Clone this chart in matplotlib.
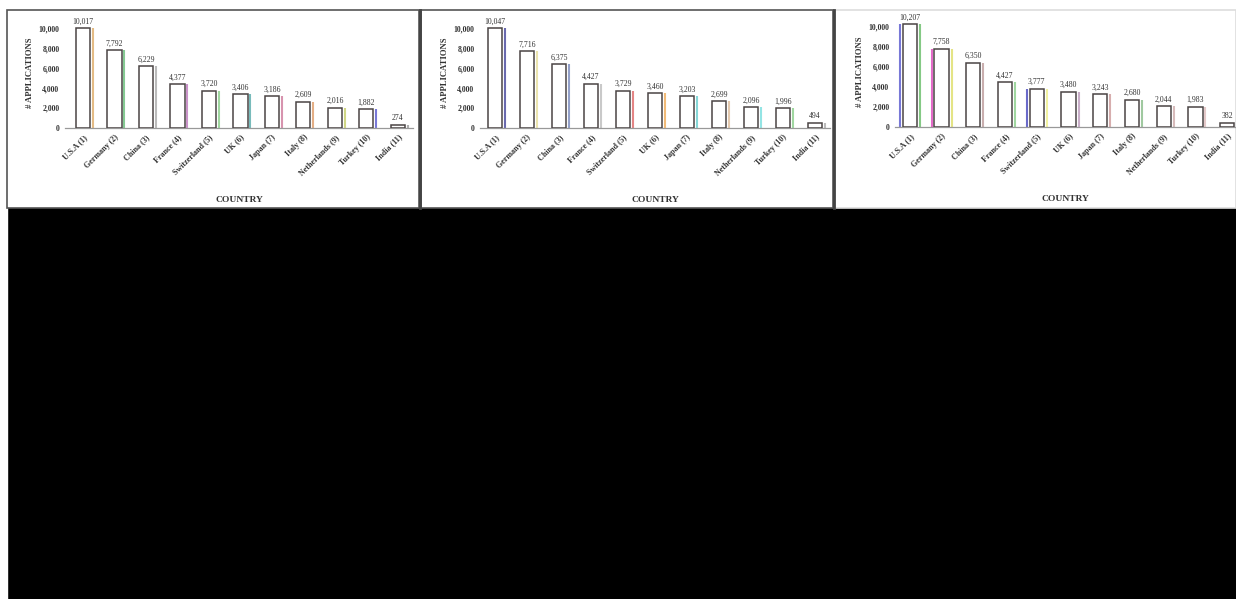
import matplotlib
matplotlib.use("Agg")
import matplotlib.pyplot as plt
from matplotlib.patches import Rectangle

W, H = 1236, 599

countries = ["U.S.A (1)", "Germany (2)", "China (3)", "France (4)", "Switzerland (5)",
             "UK (6)", "Japan (7)", "Italy (8)", "Netherlands (9)", "Turkey (10)", "India (11)"]

apps_left = [10017, 7792, 6229, 4377, 3720, 3406, 3186, 2609, 2016, 1882, 274]
apps_mid = [10047, 7716, 6375, 4427, 3729, 3460, 3203, 2699, 2096, 1996, 494]
apps_right = [10207, 7758, 6350, 4427, 3777, 3480, 3243, 2680, 2044, 1983, 382]

# thin coloured strokes drawn beside each bar
side_left = ["#e0b070", "#70c080", "#b0b0b0", "#c080c0", "#90d090", "#60b0b0",
             "#d080a0", "#e0a070", "#c8d070", "#6060d0", "#a0a0a0"]
side_mid = ["#5050a0", "#e8e0a0", "#8090c0", "#c0c0c0", "#e07070", "#f0b060",
            "#70d0d0", "#e0c0a0", "#80e0e0", "#90d090", "#b0b0b0"]
side_right = ["#70c070", "#e0e070", "#c0a0a0", "#90d090", "#f0f090", "#c0a0c0",
              "#d0a0a0", "#90c090", "#d0b0b0", "#e0c0c0", "#a0a0a0"]
lead_right = ["#6060d0", "#e050c0", None, None, "#5050c0", None, None, None, None, None, None]


def box(x0, y0, x1, y1):
    return [x0 / W, 1 - y1 / H, (x1 - x0) / W, (y1 - y0) / H]


fig = plt.figure(figsize=(W / 100, H / 100), dpi=100, facecolor="black")
plt.rcParams["font.family"] = ["Liberation Serif", "DejaVu Serif"]

# white margins and panel backgrounds
fig.add_artist(Rectangle((0, 0), 7 / W, 1, transform=fig.transFigure,
                         color="white", zorder=-2))
fig.add_artist(Rectangle((0, 1 - 10 / H), 1, 10 / H, transform=fig.transFigure,
                         color="white", zorder=-2))
for x0, x1, edge in [(7, 419, "#555555"), (421, 833, "#555555"), (835, 1236, "#dddddd")]:
    fig.add_artist(Rectangle((x0 / W, 1 - 208 / H), (x1 - x0) / W, 198 / H,
                             transform=fig.transFigure, facecolor="white",
                             edgecolor=edge, lw=1.2, zorder=-1))
# dark dividers between the panels
for xd in (420, 834):
    fig.add_artist(plt.Line2D([xd / W, xd / W], [1 - 208 / H, 1 - 10 / H],
                              transform=fig.transFigure, color="#444444", lw=2, zorder=-1))

panels = [
    (box(65, 18.4, 413, 127.7), apps_left, side_left, None, (-0.57, 10.48), 11000),
    (box(480, 18.4, 830, 127.7), apps_mid, side_mid, None, (-0.47, 10.47), 11000),
    (box(895, 17.0, 1236, 126.7), apps_right, side_right, lead_right, (-0.47, 10.28), 10900),
]

for rect, values, sides, leads, xlim, ytop in panels:
    ax = fig.add_axes(rect)
    ax.set_facecolor("none")
    x = list(range(len(countries)))
    width = 0.45
    ax.bar(x, values, width=width, facecolor="white", edgecolor="#4a4444", lw=1.1, zorder=3)
    ax.vlines([i + width / 2 + 0.09 for i in x], 0, values, colors=sides, lw=1.5,
              alpha=0.85, zorder=2)
    if leads:
        for i, c in enumerate(leads):
            if c:
                ax.vlines(i - width / 2 - 0.09, 0, values[i], colors=c, lw=1.5,
                          alpha=0.85, zorder=2)
    for i, v in enumerate(values):
        ax.text(i, v + 250, f"{v:,}", ha="center", va="bottom", fontsize=5.6,
                color="#333333")
    ax.set_xlim(*xlim)
    ax.set_ylim(0, ytop)
    ax.set_yticks([0, 2000, 4000, 6000, 8000, 10000])
    ax.set_yticklabels([f"{t:,}" for t in [0, 2000, 4000, 6000, 8000, 10000]],
                       fontsize=5.6, fontweight="bold", color="#333333")
    ax.set_xticks(x)
    ax.set_xticklabels(countries, rotation=45, ha="right", rotation_mode="anchor",
                       fontsize=5.8, fontweight="bold", color="#333333")
    ax.tick_params(axis="both", length=0, pad=4)
    for s in ["top", "right", "left"]:
        ax.spines[s].set_visible(False)
    ax.spines["bottom"].set_color("#999999")
    ax.spines["bottom"].set_linewidth(0.9)
    ax.set_ylabel("# APPLICATIONS", fontsize=6.2, fontweight="bold", color="#333333",
                  labelpad=3)
    ax.set_xlabel("COUNTRY", fontsize=6.8, fontweight="bold", color="#333333",
                  labelpad=14)

fig.savefig("out.png", dpi=100, facecolor="black")
